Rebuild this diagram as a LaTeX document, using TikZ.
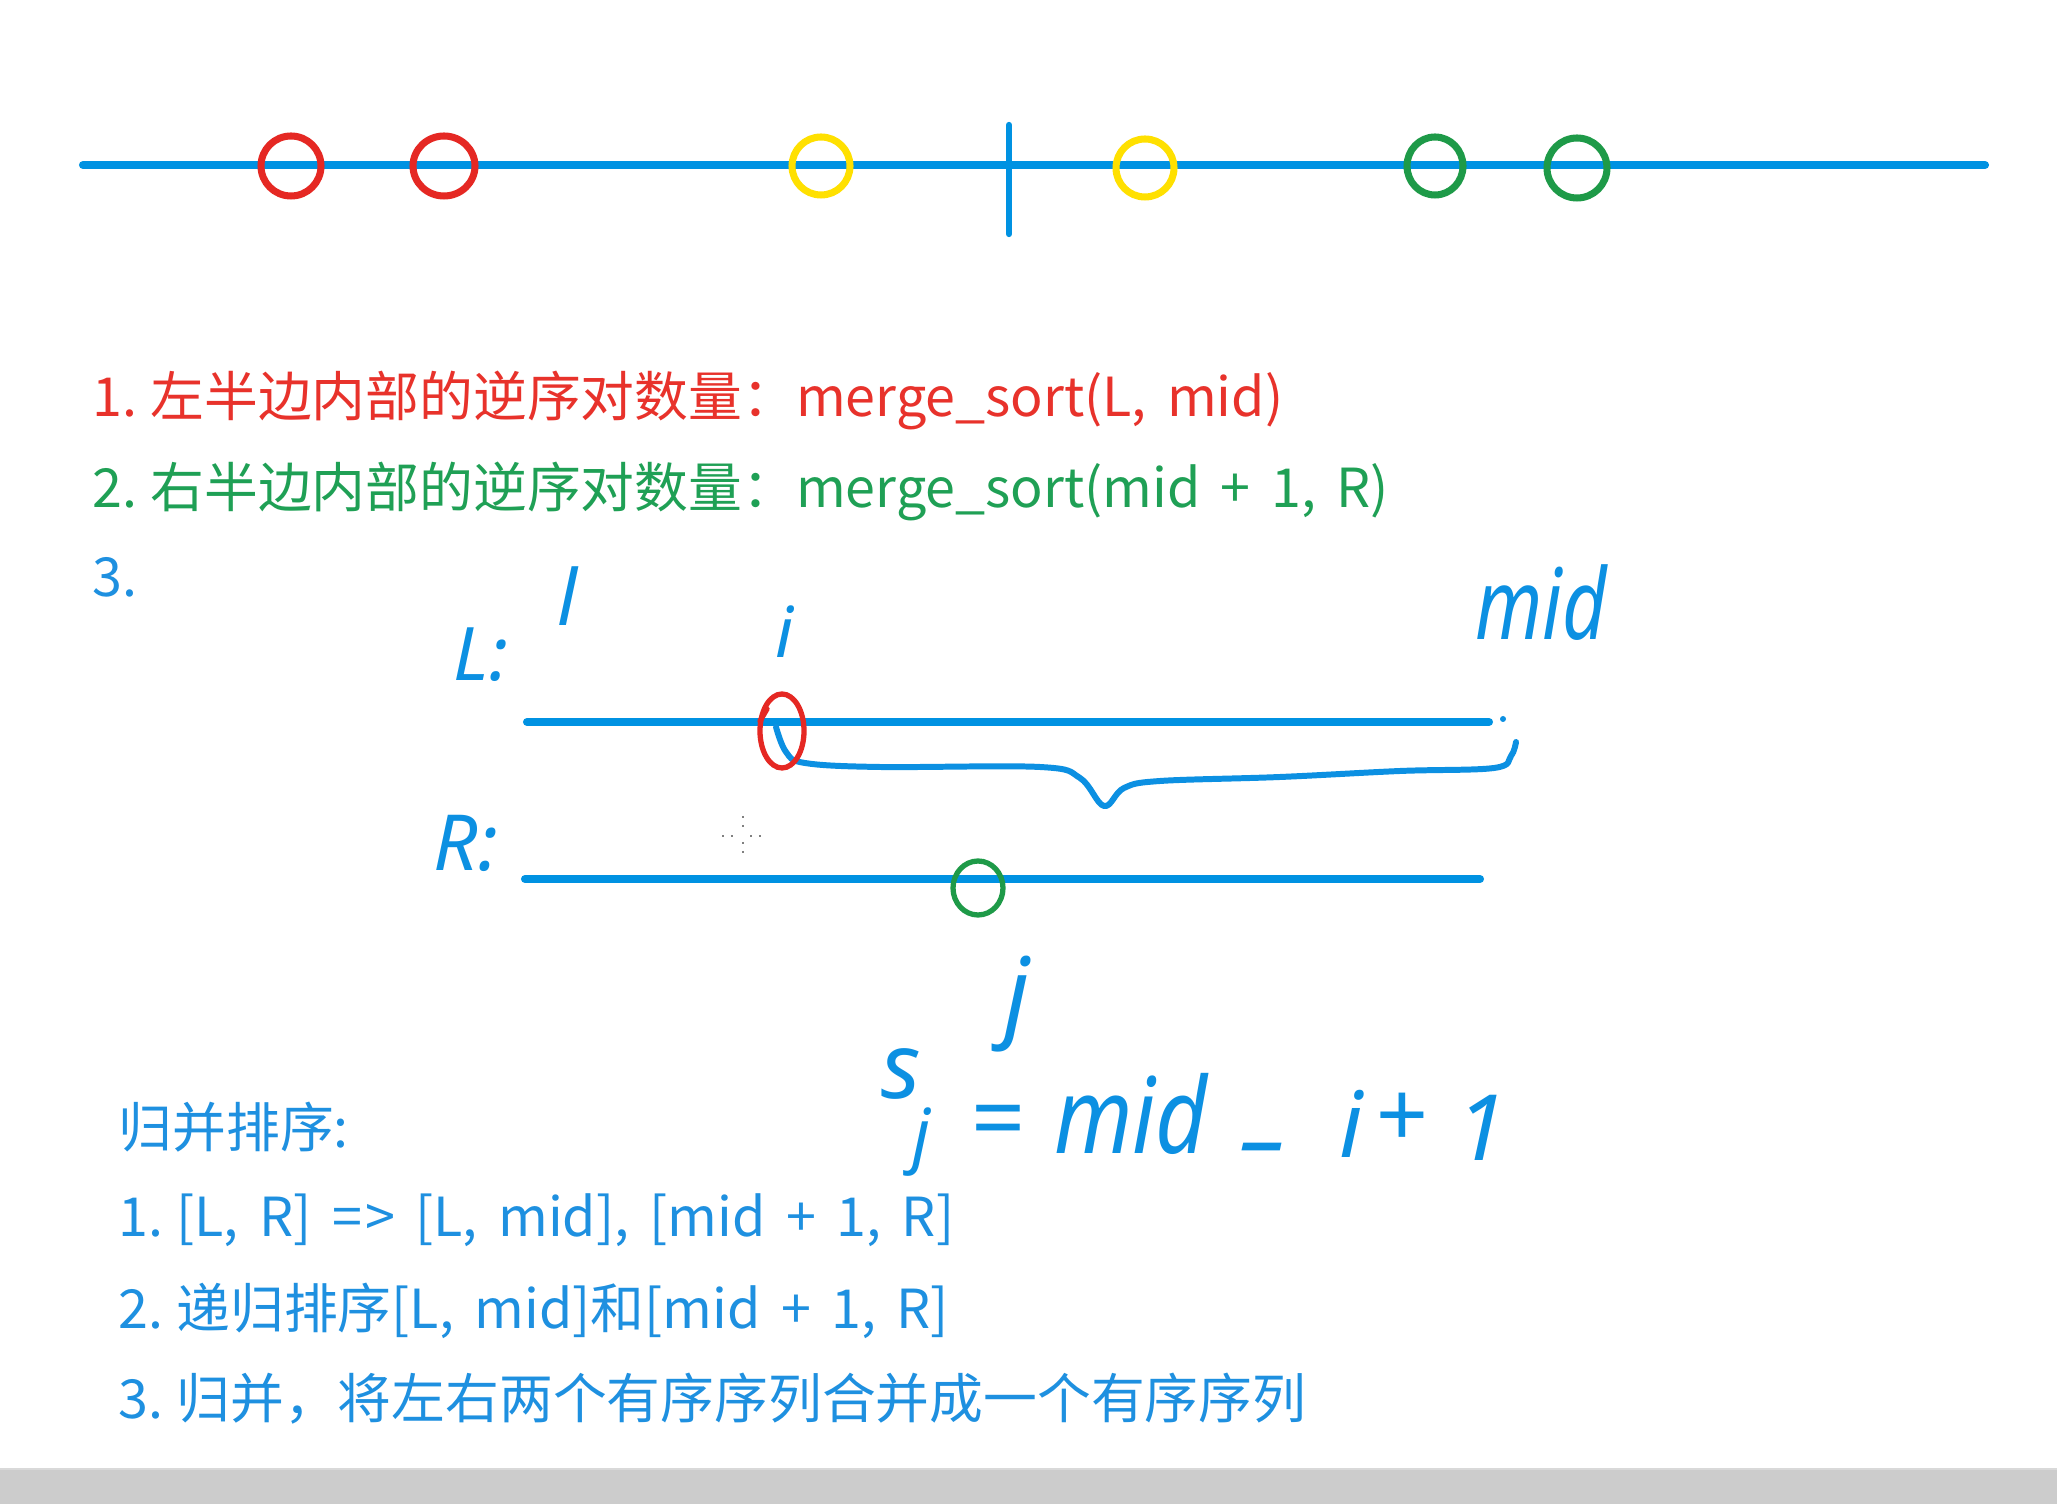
\documentclass[tikz,border=0pt]{standalone}
\usepackage{fontspec}
\newfontfamily\cjk{Noto Sans CJK SC}
\newfontfamily\handfont{Noto Sans}
\newcommand\mytxtfont{\cjk\fontsize{15.3pt}{18pt}\selectfont\spaceskip 0.38em plus 0.1em\relax}
\newcommand\numgap{\kern0.24em}
\definecolor{lineblue}{RGB}{0,146,226}
\definecolor{inkblue}{RGB}{12,144,226}
\definecolor{cred}{RGB}{229,40,35}
\definecolor{cyellow}{RGB}{255,224,0}
\definecolor{cgreen}{RGB}{30,154,72}
\definecolor{tred}{RGB}{232,50,43}
\definecolor{tgreen}{RGB}{31,160,85}
\definecolor{tblue}{RGB}{30,144,224}
\definecolor{barGray}{RGB}{204,204,204}
\tikzset{
  txt/.style={anchor=base west, inner sep=0pt, font=\mytxtfont},
  hand/.style={text=inkblue, inner sep=0pt, font=\handfont\itshape},
  axisline/.style={draw=lineblue, line width=2.3pt, line cap=round},
  ring/.style={line width=2pt},
  ink/.style={draw=inkblue, line width=1.7pt, line cap=round, line join=round}
}
\begin{document}
\begin{tikzpicture}[x=0.01cm, y=-0.01cm]
\useasboundingbox (0,0) rectangle (2057,1504);
\fill[white] (0,0) rectangle (2057,1504);
% bottom gray bar
\fill[barGray] (0,1469) rectangle (2057,1504);
\draw[gray!30, line width=0.6pt] (0,1469) -- (2057,1469);

% top number line
\coordinate (tl) at (83,165);
\coordinate (tr) at (1985,165);
\draw[axisline] (tl) -- (tr);
\coordinate (mt) at (1009,125);
\coordinate (mb) at (1009,234);
\draw[draw=lineblue, line width=1.8pt, line cap=round] (mt) -- (mb);
\draw[ring, cred] (291,166) ellipse [x radius=30, y radius=30];
\draw[ring, cred] (444,166) ellipse [x radius=31, y radius=30];
\draw[ring, cyellow] (821,166) ellipse [x radius=29, y radius=29];
\draw[ring, cyellow] (1145,168) ellipse [x radius=29, y radius=29];
\draw[ring, cgreen] (1435,166) ellipse [x radius=28, y radius=29];
\draw[ring, cgreen] (1577,168) ellipse [x radius=30, y radius=30];

% text lines
\node[txt, text=tred] (t1) at (92,417) {1.\numgap 左半边内部的逆序对数量：merge\_sort(L, mid)};
\node[txt, text=tgreen] (t2) at (92,508) {2.\numgap 右半边内部的逆序对数量：merge\_sort(mid + 1, R)};
\node[txt, text=tblue] (t3) at (92,597) {3.};

\node[txt, text=tblue] (b0) at (118,1148) {归并排序:};
\node[txt, text=tblue] (b1) at (118,1237) {1.\numgap [L, R] =\kern0.06em> [L, mid], [mid + 1, R]};
\node[txt, text=tblue] (b2) at (118,1328) {2.\numgap 递归排序[L, mid]和[mid + 1, R]};
\node[txt, text=tblue] (b3) at (118,1419) {3.\numgap 归并，将左右两个有序序列合并成一个有序序列};

% handwritten labels
\node[hand, font=\handfont\itshape\fontsize{21pt}{24pt}\selectfont] (Llab) at (481,655) {L:};
\node[hand, font=\handfont\itshape\fontsize{22pt}{24pt}\selectfont] (llab) at (567,596) {l};
\node[hand, font=\handfont\itshape\fontsize{20pt}{24pt}\selectfont] (ilab) at (785,632) {i};
\node[hand, xscale=0.78, font=\handfont\itshape\fontsize{28pt}{30pt}\selectfont] (midlab) at (1541,603) {mid};
\node[hand, font=\handfont\itshape\fontsize{22pt}{24pt}\selectfont] (Rlab) at (466,843) {R:};

% L and R lines
\coordinate (La) at (527,722);
\coordinate (Lb) at (1489,722);
\coordinate (Ra) at (525,879);
\coordinate (Rb) at (1480,879);
\draw[axisline] (La) -- (Lb);
\draw[axisline] (Ra) -- (Rb);
\fill[inkblue] (1503,719) circle (3);

% brace
\draw[ink] plot[smooth, tension=0.6] coordinates {(776,727) (786,752) (805,763) (880,767) (1040,767) (1080,778) (1104,806) (1124,788) (1160,781) (1280,777) (1400,771) (1494,768) (1511,756) (1516,742)};

% red circle at i
\draw[cred, line width=1.5pt] (782,731) ellipse [x radius=22, y radius=37];
\draw[cred, line width=1.5pt, line cap=round] (760,721) -- (767,709);
% green circle at j
\draw[cgreen, line width=1.5pt] (978,888) ellipse [x radius=25, y radius=27];

% cursor artifact
\draw[gray, line width=0.5pt, dotted] (743,816) -- (743,830);
\draw[gray, line width=0.5pt, dotted] (743,842) -- (743,856);
\draw[gray, line width=0.5pt, dotted] (722,836) -- (736,836);
\draw[gray, line width=0.5pt, dotted] (750,836) -- (764,836);

% j label
\node[hand, font=\handfont\itshape\fontsize{28pt}{30pt}\selectfont] (jlab) at (1017,1004) {j};

% formula s_j = mid - i + 1
\node[hand, font=\handfont\itshape\fontsize{26pt}{30pt}\selectfont] (fs) at (901,1074) {s};
\node[hand, font=\handfont\itshape\fontsize{20pt}{24pt}\selectfont] (fj) at (922,1142) {j};
\node[hand, font=\handfont\itshape\fontsize{27pt}{30pt}\selectfont] (feq) at (997,1128) {=};
\node[hand, xscale=0.85, font=\handfont\itshape\fontsize{30pt}{32pt}\selectfont] (fmid) at (1131,1114) {mid};
\node[hand, font=\handfont\itshape\fontsize{27pt}{30pt}\selectfont] (fminus) at (1262,1158) {–};
\node[hand, font=\handfont\itshape\fontsize{26pt}{30pt}\selectfont] (fi) at (1351,1124) {i};
\node[hand, font=\handfont\itshape\fontsize{26pt}{30pt}\selectfont] (fplus) at (1401,1120) {+};
\node[hand, font=\handfont\itshape\fontsize{26pt}{30pt}\selectfont] (fone) at (1482,1128) {1};
\end{tikzpicture}
\end{document}
